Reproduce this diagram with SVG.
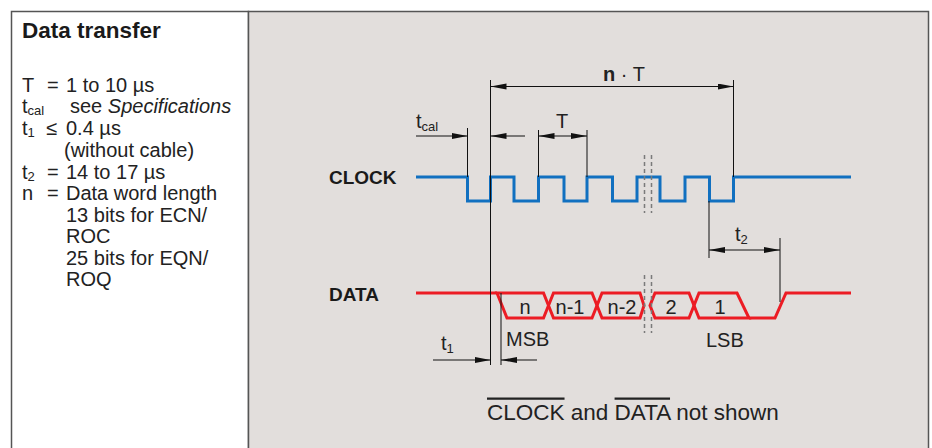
<svg xmlns="http://www.w3.org/2000/svg" width="932" height="448" viewBox="0 0 932 448">
<style>
  text { font-family: "Liberation Sans", Arial, sans-serif; fill: #222; }
  .t20 { font-size: 20px; }
  .lbl { font-size: 19px; font-weight: bold; fill: #1a1a1a; }
  .sub { font-size: 13px; }
  .dim { stroke: #111; stroke-width: 1; fill: none; }
  .clk { stroke: #1170c0; stroke-width: 3; fill: none; stroke-linejoin: miter; }
  .dat { stroke: #ec1c24; stroke-width: 3; fill: none; stroke-linejoin: miter; }
  .brk { stroke: #7a7a7a; stroke-width: 1.5; stroke-dasharray: 4 3; fill: none; }
</style>
<defs>
  <marker id="ah" markerUnits="userSpaceOnUse" markerWidth="17" markerHeight="7" refX="16" refY="3" orient="auto-start-reverse">
    <path d="M0,0 L16,3 L0,6 Z" fill="#111"/>
  </marker>
</defs>

<rect x="0" y="0" width="932" height="448" fill="#ffffff"/>
<g id="frame">
  <rect x="11.5" y="11.5" width="237" height="450" fill="#ffffff" stroke="#555" stroke-width="1.5"/>
  <rect x="248.5" y="11.5" width="680" height="450" fill="#e2dedc" stroke="#555" stroke-width="1.5"/>
</g>

<g id="legend">
  <text x="22" y="38" style="font-size:22.5px;font-weight:bold;fill:#1a1a1a">Data transfer</text>
  <text class="t20" y="92"><tspan x="22">T</tspan><tspan x="47">=</tspan><tspan x="66">1 to 10 µs</tspan></text>
  <text class="t20" y="113"><tspan x="22">t</tspan><tspan class="sub" dy="2">cal</tspan><tspan x="70" dy="-2">see </tspan><tspan font-style="italic">Specifications</tspan></text>
  <text class="t20" y="135"><tspan x="22">t</tspan><tspan class="sub" dy="2">1</tspan><tspan x="46" dy="-2">≤</tspan><tspan x="66">0.4 µs</tspan></text>
  <text class="t20" x="64" y="157">(without cable)</text>
  <text class="t20" y="178.5"><tspan x="22">t</tspan><tspan class="sub" dy="2">2</tspan><tspan x="47" dy="-2">=</tspan><tspan x="66">14 to 17 µs</tspan></text>
  <text class="t20" y="200"><tspan x="22">n</tspan><tspan x="47">=</tspan><tspan x="66">Data word length</tspan></text>
  <text class="t20" x="66" y="221.5">13 bits for ECN/</text>
  <text class="t20" x="66" y="243">ROC</text>
  <text class="t20" x="66" y="265">25 bits for EQN/</text>
  <text class="t20" x="66" y="286">ROQ</text>
</g>

<g id="clock">
  <text class="lbl" x="329" y="183.5">CLOCK</text>
  <path class="clk" d="M416,177 H467.5 V201 H490.5 V177 H514 V201 H538.5 V177 H564 V201 H587 V177 H612.5 V201 H637 V177 H660 V201 H685 V177 H709.5 V201 H733.5 V177 H851"/>
</g>

<g id="data">
  <text class="lbl" x="329" y="300.5">DATA</text>
  <path class="dat" d="M416,293 H497"/>
  <path class="dat" d="M497,293 H543.5 L548.5,305.5 L543.5,318 H507 Z"/>
  <path class="dat" d="M553.5,293 H592 L597,305.5 L592,318 H553.5 L548.5,305.5 Z"/>
  <path class="dat" d="M602,293 H640 L644,305.5 L640,318 H602 L597,305.5 Z"/>
  <path class="dat" d="M655,293 H689 L694,305.5 L689,318 H655 L650,305.5 Z"/>
  <path class="dat" d="M699,293 H737 L749,318 H699 L694,305.5 Z"/>
  <path class="dat" d="M749,318 H775 L786,293 H851"/>
  <g class="t20" text-anchor="middle">
    <text x="525" y="314">n</text>
    <text x="570" y="314">n-1</text>
    <text x="622" y="314">n-2</text>
    <text x="671" y="314">2</text>
    <text x="720" y="314">1</text>
  </g>
  <text class="t20" x="506" y="346">MSB</text>
  <text class="t20" x="706" y="346.5">LSB</text>
</g>

<g id="breaks">
  <line class="brk" x1="644.5" y1="155" x2="644.5" y2="213"/>
  <line class="brk" x1="651.5" y1="155" x2="651.5" y2="213"/>
  <line class="brk" x1="644.5" y1="275" x2="644.5" y2="333"/>
  <line class="brk" x1="651.5" y1="275" x2="651.5" y2="333"/>
</g>

<g id="connectors">
  <line class="dim" x1="467.5" y1="128" x2="467.5" y2="177"/>
  <line class="dim" x1="490.5" y1="80" x2="490.5" y2="365"/>
  <line class="dim" x1="538.5" y1="130" x2="538.5" y2="177"/>
  <line class="dim" x1="587" y1="130" x2="587" y2="177"/>
  <line class="dim" x1="733.5" y1="80" x2="733.5" y2="177"/>
  <line class="dim" x1="709" y1="201" x2="709" y2="258"/>
  <line class="dim" x1="780" y1="238" x2="780" y2="302"/>
  <line class="dim" x1="501" y1="293" x2="501" y2="365"/>
  <line class="dim" x1="490.5" y1="86.5" x2="733.5" y2="86.5" marker-start="url(#ah)" marker-end="url(#ah)"/>
  <line class="dim" x1="416" y1="136" x2="467.5" y2="136" marker-end="url(#ah)"/>
  <line class="dim" x1="525" y1="136" x2="490.5" y2="136" marker-end="url(#ah)"/>
  <line class="dim" x1="538.5" y1="136" x2="587" y2="136" marker-start="url(#ah)" marker-end="url(#ah)"/>
  <line class="dim" x1="709" y1="250" x2="780" y2="250" marker-start="url(#ah)" marker-end="url(#ah)"/>
  <line class="dim" x1="433" y1="360" x2="490.5" y2="360" marker-end="url(#ah)"/>
  <line class="dim" x1="537" y1="360" x2="501" y2="360" marker-end="url(#ah)"/>
</g>

<g id="dim-labels">
  <text class="t20" y="81"><tspan x="603" font-weight="bold">n</tspan><tspan> · T</tspan></text>
  <text class="t20" y="128"><tspan x="416">t</tspan><tspan class="sub" dy="3">cal</tspan></text>
  <text class="t20" x="562" y="128" text-anchor="middle">T</text>
  <text class="t20" y="240.5"><tspan x="735">t</tspan><tspan class="sub" dy="3">2</tspan></text>
  <text class="t20" y="349.5"><tspan x="441">t</tspan><tspan class="sub" dy="3">1</tspan></text>
</g>

<g id="note">
  <text x="487" y="419.5" style="font-size:22.5px"><tspan text-decoration="overline">CLOCK</tspan> and <tspan text-decoration="overline">DATA</tspan> not shown</text>
</g>
</svg>
